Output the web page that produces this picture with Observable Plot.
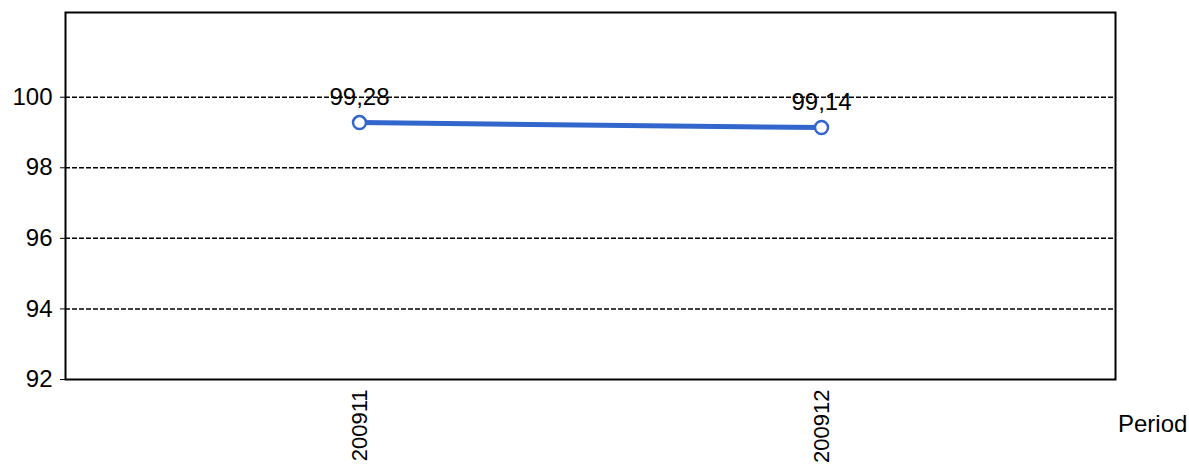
<!DOCTYPE html>
<html>
<head>
<meta charset="utf-8">
<script src="https://cdn.jsdelivr.net/npm/d3@7"></script>
<script src="https://cdn.jsdelivr.net/npm/@observablehq/plot@0.6"></script>
<style>
  html, body { margin: 0; padding: 0; background: #fff; }
  #chart { position: relative; width: 1189px; height: 467px; font-family: "Liberation Sans", Arial, sans-serif; }
  #xlabel { position: absolute; left: 1118px; top: 412px; font-size: 24px; line-height: 24px; color: #000; }
</style>
</head>
<body>
<div id="chart"><div id="xlabel">Period</div></div>
<script>
const periods = ["200911", "200912"];
const values = [99.28, 99.14];
const valueLabels = ["99,28", "99,14"];
const yTicks = [92, 94, 96, 98, 100];

const data = periods.map((p, i) => ({period: p, value: values[i], label: valueLabels[i]}));

const plot = Plot.plot({
  width: 1189,
  height: 467,
  marginLeft: 65,
  marginRight: 74,
  marginTop: 12,
  marginBottom: 88,
  style: {fontFamily: "'Liberation Sans', Arial, sans-serif", fontSize: "24px", color: "#000", background: "#fff"},
  x: {type: "point", domain: periods, padding: 0.634, label: null},
  y: {domain: [92, 102.4], label: null},
  marks: [
    Plot.ruleY(yTicks.filter(d => d > 92), {stroke: "#000", strokeWidth: 1.5, strokeDasharray: "5,2", strokeOpacity: 1}),
    Plot.axisY({ticks: yTicks, tickSize: 5, tickPadding: 8, fontSize: 24, tickFormat: d => String(d), stroke: "#000"}),
    Plot.axisX({tickSize: 0, tickRotate: -90, tickPadding: 10, fontSize: 22}),
    Plot.line(data, {x: "period", y: "value", stroke: "#3366cc", strokeWidth: 5}),
    Plot.dot(data, {x: "period", y: "value", r: 6.5, fill: "#fff", stroke: "#3366cc", strokeWidth: 2.5}),
    Plot.text(data, {x: "period", y: "value", text: "label", dy: -25, fontSize: 24, fill: "#000"}),
    Plot.frame({stroke: "#000", strokeWidth: 2})
  ]
});
document.getElementById("chart").prepend(plot);
</script>
</body>
</html>
